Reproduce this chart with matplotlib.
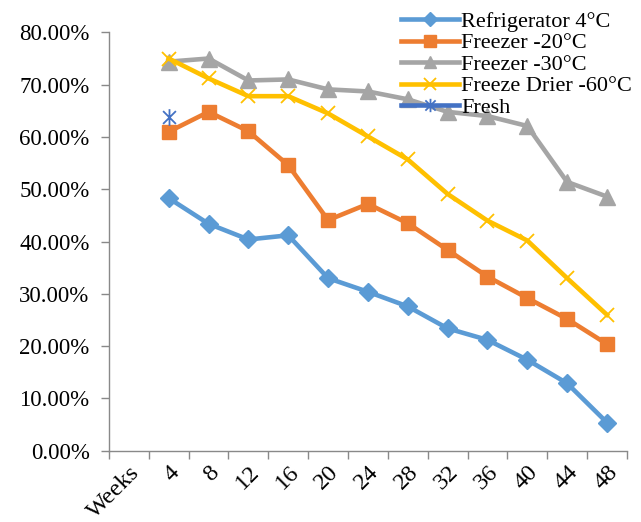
import numpy as np
import matplotlib
matplotlib.use('Agg')
from matplotlib import pyplot as plt
from matplotlib.path import Path
from matplotlib.ticker import FixedLocator, NullFormatter, FixedFormatter

plt.rcParams['font.family'] = ['Liberation Serif', 'DejaVu Serif']

weeks = ['Weeks', '4', '8', '12', '16', '20', '24', '28', '32', '36', '40', '44', '48']

refrig = [48.3, 43.4, 40.4, 41.2, 33.0, 30.4, 27.6, 23.4, 21.2, 17.4, 12.9, 5.4]
freezer20 = [61.0, 64.8, 61.1, 54.6, 44.1, 47.2, 43.5, 38.4, 33.3, 29.2, 25.2, 20.4]
freezer30 = [74.4, 75.0, 70.8, 71.0, 69.1, 68.7, 67.2, 64.8, 64.0, 62.1, 51.4, 48.6]
drier60 = [75.0, 71.2, 67.8, 67.8, 64.5, 60.1, 55.7, 49.1, 44.0, 40.2, 33.0, 26.0]
fresh = [63.8]

x = np.arange(1, len(weeks))  # "Weeks" is category 0, no data

# excel style star: an X with a vertical bar through it
star = Path([(-1, -1), (1, 1), (-1, 1), (1, -1), (0, -1.3), (0, 1.3)],
            [Path.MOVETO, Path.LINETO, Path.MOVETO, Path.LINETO, Path.MOVETO, Path.LINETO])

fig = plt.figure(figsize=(6.41, 5.22), dpi=100)
ax = fig.add_axes([0.170, 0.1364, 0.808, 0.8016])

ax.plot(x, refrig, color='#5B9BD5', lw=3.3, marker='D', ms=9, label='Refrigerator 4°C')
ax.plot(x, freezer20, color='#ED7D31', lw=3.3, marker='s', ms=10.5, label='Freezer -20°C')
ax.plot(x, freezer30, color='#A5A5A5', lw=3.3, marker='^', ms=11, label='Freezer -30°C')
ax.plot(x, drier60, color='#FFC000', lw=3.3, marker='x', ms=10, mew=1.3, label='Freeze Drier -60°C')
ax.plot(x[:1], fresh, color='#4472C4', lw=3.3, marker=star, ms=12, mew=1.3, label='Fresh')

ax.set_ylim(0, 80)
ax.set_yticks(np.arange(0, 81, 10))
ax.set_yticklabels(['%.2f%%' % v for v in np.arange(0, 81, 10)])
ax.set_xlim(-0.5, len(weeks) - 0.5)

# category boundaries get the tick marks, centres get the labels
ax.xaxis.set_major_locator(FixedLocator(np.arange(-0.5, len(weeks), 1)))
ax.xaxis.set_major_formatter(NullFormatter())
ax.xaxis.set_minor_locator(FixedLocator(np.arange(len(weeks))))
ax.xaxis.set_minor_formatter(FixedFormatter(weeks))
ax.tick_params(axis='x', which='minor', length=0, pad=8, labelsize=17.5)
plt.setp(ax.get_xticklabels(minor=True), rotation=45, ha='right', rotation_mode='anchor')

ax.tick_params(axis='x', which='major', length=6, color='#898989', width=1)
ax.tick_params(axis='y', length=6, color='#898989', width=1, labelsize=16.5, pad=8)

for s in ['top', 'right']:
    ax.spines[s].set_visible(False)
for s in ['left', 'bottom']:
    ax.spines[s].set_color('#898989')
    ax.spines[s].set_linewidth(1)

leg = fig.legend(loc='upper left', bbox_to_anchor=(0.626, 0.978), frameon=False,
                 fontsize=16, handlelength=2.6, handletextpad=0.1, labelspacing=0.04,
                 borderpad=0, borderaxespad=0, markerscale=0.8)

fig.savefig('out.png', dpi=100)
